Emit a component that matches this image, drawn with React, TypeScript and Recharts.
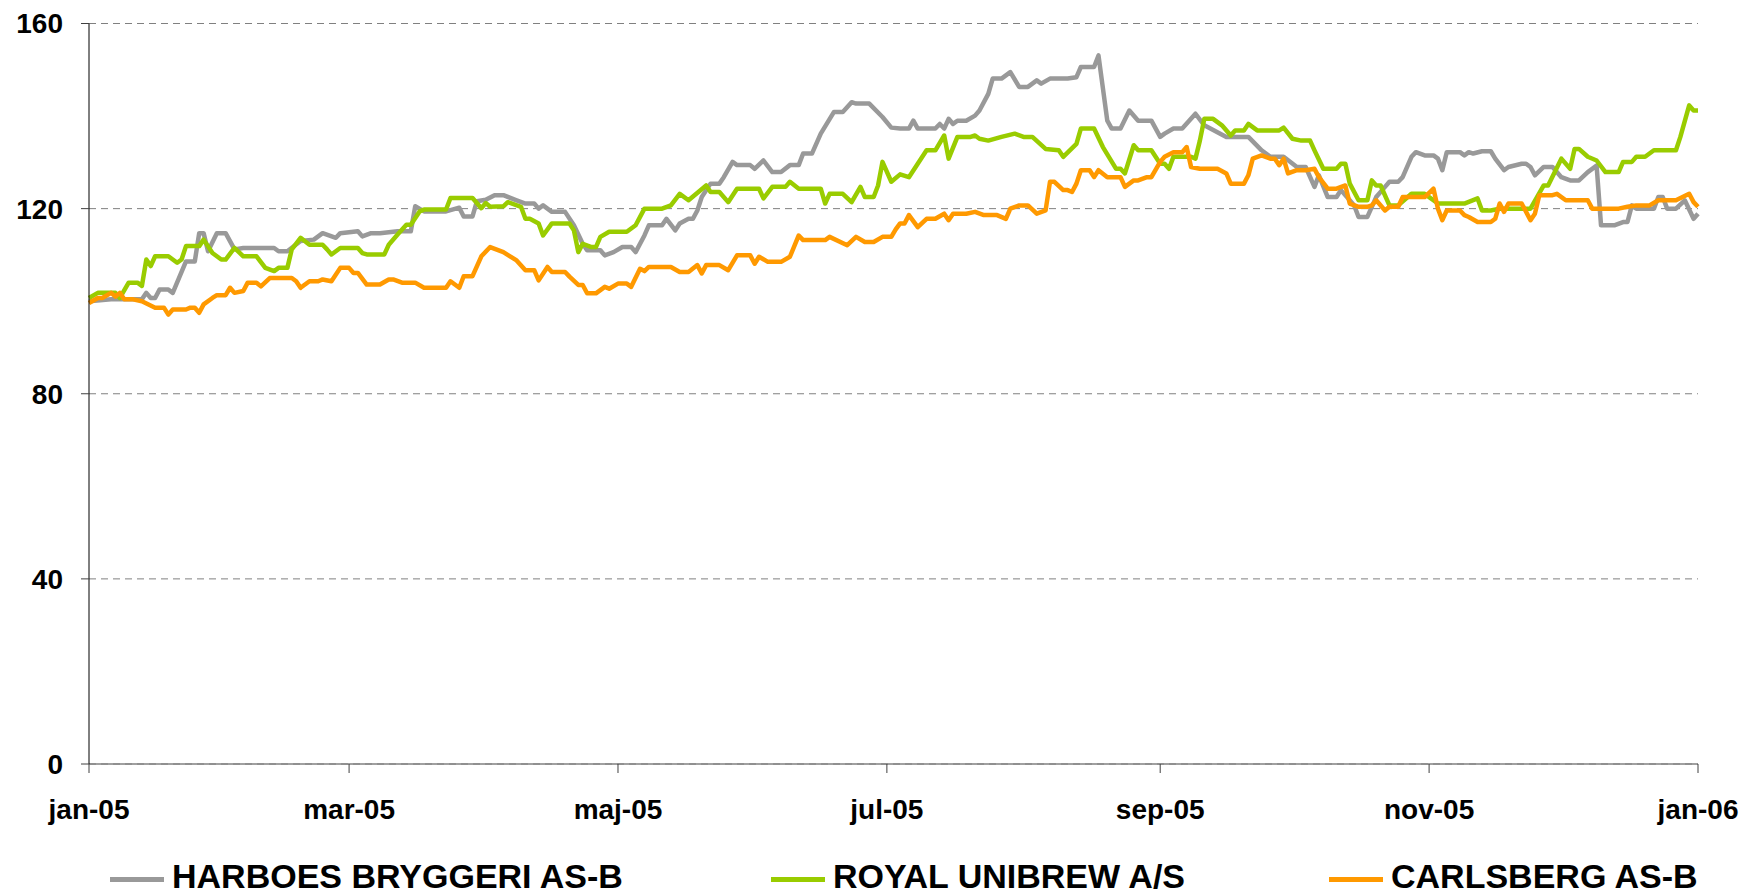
import React from 'react';
import { LineChart, Line, XAxis, YAxis, CartesianGrid } from 'recharts';

// Day offsets from 1 Jan 2005, index values
const harboesSeries: [number, number][] = [
  [0,100],[5,100.4],[12,100.4],[13,101.8],[14,100.7],[15,100.7],[16,102.5],[18,102.5],[19,101.8],[22,108.6],[24,108.6],
  [25,114.7],[26,114.7],[27,110.8],[29,114.7],[31,114.7],[33,111.2],[35,111.5],[42,111.5],[43,110.8],[45,110.8],[48,113],
  [51,113.3],[53,114.7],[56,113.7],[57,114.7],[61,115.1],[62,114],[64,114.7],[66,114.7],[70,115.1],[73,115.1],[74,120.5],
  [76,119.4],[81,119.4],[84,120.2],[85,118.3],[87,118.3],[88,121.6],[90,121.9],[92,122.9],[94,122.9],[97,121.8],[99,121.1],
  [101,121.1],[102,120],[103,120.7],[105,119.3],[108,119.3],[110,116.4],[112,112.4],[113,111],[116,111],[117,109.9],[119,110.6],
  [121,111.7],[123,111.7],[124,110.6],[126,114.2],[127,116.4],[130,116.4],[131,117.8],[133,115.3],[134,116.8],[136,117.8],
  [137,117.8],[138,119.6],[139,122.5],[141,125.4],[143,125.4],[144,126.8],[146,130.1],[147,129.4],[150,129.4],[151,128.6],
  [153,130.4],[155,127.9],[157,127.9],[159,129.4],[161,129.4],[162,131.9],[164,131.9],[166,136.2],[169,140.9],[171,140.9],
  [173,143],[174,142.7],[177,142.7],[180,139.8],[182,137.5],[184,137.3],[186,137.3],[187,139],[188,137.3],[192,137.3],
  [193,138.3],[194,137.3],[195,139.4],[196,138.3],[197,139],[199,139],[201,140.1],[202,141.2],[204,144.8],[205,148.1],
  [207,148.1],[209,149.5],[211,146.3],[213,146.3],[215,147.7],[216,147],[218,148.1],[222,148.1],[224,148.4],[225,150.6],
  [228,150.6],[229,153.1],[231,139],[232,137.3],[234,137.3],[236,141.2],[238,139],[241,139],[243,135.5],[244,136.2],
  [246,137.3],[248,137.3],[251,140.5],[253,138],[258,135.5],[263,135.5],[266,132.6],[268,131.2],[271,131.2],[274,129],
  [276,129],[278,124.7],[279,127.2],[281,122.5],[283,122.5],[284,124],[286,121.8],[287,120.7],[288,118.2],[290,118.2],
  [292,122.5],[294,124.7],[295,125.8],[297,125.8],[298,126.8],[300,131.2],[301,132.2],[303,131.5],[305,131.5],[306,130.8],
  [307,128.3],[308,132.2],[311,132.2],[312,131.5],[313,132.2],[314,131.9],[316,132.4],[318,132.4],[319,130.8],[321,128.3],
  [322,129],[325,129.7],[326,129.7],[327,129],[328,127.2],[330,129],[332,129],[334,126.8],[336,126.1],[338,126.1],
  [340,127.9],[342,129.3],[343,116.4],[346,116.4],[348,117.1],[349,117.1],[350,120.7],[351,120],[355,120],[356,122.5],
  [357,122.5],[358,120],[360,120],[362,121.8],[364,117.8],[365,118.9],
];

const royalSeries: [number, number][] = [
  [0,100.7],[2,101.8],[6,101.8],[7,100.7],[9,104],[11,104],[12,103.3],[13,109],[14,107.6],[15,109.7],[18,109.7],[20,108.3],
  [21,109],[22,111.9],[25,111.9],[26,113.3],[28,110.4],[30,109],[31,109],[33,111.5],[35,109.7],[38,109.7],[40,107.2],
  [42,106.5],[43,107.2],[45,107.2],[46,111.2],[48,113.7],[50,112.2],[53,112.2],[54,111.2],[55,110.1],[57,111.5],[61,111.5],
  [62,110.4],[63,110.1],[67,110.1],[68,112.2],[70,114.4],[72,116.5],[73,116.5],[75,119.4],[76,119.8],[81,119.8],[82,122.3],
  [87,122.3],[89,120.1],[90,121.2],[91,120.4],[94,120.5],[95,121.4],[98,120.4],[99,117.8],[100,117.8],[102,116.8],
  [103,114.2],[105,116.8],[109,116.8],[110,115.3],[111,110.6],[112,112.4],[114,111.7],[115,111.7],[116,113.9],[118,115],
  [122,115],[124,116.4],[126,120],[130,120],[132,120.7],[134,123.2],[136,121.8],[140,125],[141,123.6],[143,123.6],
  [145,121.4],[147,124.3],[152,124.3],[153,122.2],[155,124.7],[158,124.7],[159,125.8],[161,124.3],[166,124.3],[167,121.1],
  [168,123.2],[171,123.2],[173,121.4],[175,124.7],[176,122.5],[178,122.5],[179,125],[180,130.1],[182,125.8],[184,127.4],
  [186,126.8],[188,129.7],[190,132.6],[192,132.6],[194,135.8],[195,130.8],[197,135.5],[200,135.5],[201,135.8],[202,135.1],
  [204,134.7],[207,135.5],[210,136.2],[212,135.5],[214,135.5],[217,132.9],[220,132.6],[221,131.2],[224,134],[225,137.3],
  [228,137.3],[230,133.3],[233,128.6],[234,128.6],[235,127.6],[237,133.7],[238,132.6],[241,132.6],[243,129.7],[244,129.7],
  [245,128.6],[246,131.2],[250,131.2],[251,130.8],[252,134.7],[253,139.4],[255,139.4],[257,138],[259,135.8],[260,136.9],
  [262,136.9],[263,138.3],[265,136.9],[270,136.9],[271,137.5],[273,135.1],[275,134.7],[277,134.7],[278,132.6],[280,128.6],
  [283,128.6],[284,129.7],[285,129.7],[286,125.4],[288,121.8],[290,121.8],[291,126.1],[292,125],[293,125],[295,120.7],
  [297,120.7],[300,123.2],[303,123.2],[306,121.1],[312,121.1],[315,122.2],[316,119.6],[318,119.6],[320,120],[327,120],
  [330,125],[331,125],[334,130.8],[336,128.6],[337,132.9],[338,132.9],[340,131.2],[342,130.4],[344,127.9],[347,127.9],
  [348,130.1],[350,130.1],[351,131.2],[353,131.2],[355,132.6],[360,132.6],[361,135.5],[363,142.3],[364,141.2],[365,141.2],
];

const carlsbergSeries: [number, number][] = [
  [0,99.6],[2,100.7],[3,100.7],[5,101.8],[6,101],[7,101.8],[8,100.4],[10,100.4],[12,100],[15,98.6],[17,98.6],[18,97.1],
  [19,98.2],[22,98.2],[23,98.6],[24,98.6],[25,97.5],[26,99.3],[28,100.7],[29,101.3],[31,101.3],[32,102.9],[33,101.8],
  [35,102.2],[36,104],[38,104],[39,103.2],[41,105],[46,105],[47,104.3],[48,102.9],[50,104.3],[52,104.3],[53,104.7],
  [55,104.3],[57,107.2],[59,107.2],[60,106.1],[61,106.1],[63,103.6],[66,103.6],[68,104.7],[69,104.7],[71,104],[74,104],
  [76,102.9],[81,102.9],[82,104.3],[84,102.9],[85,105.4],[87,105.4],[89,109.7],[91,111.7],[94,110.6],[97,108.8],[99,106.7],
  [101,106.7],[102,104.5],[104,107.4],[105,106.3],[108,106.3],[109,105.3],[111,103.5],[112,103.5],[113,101.7],[115,101.7],
  [117,103.1],[118,102.7],[120,103.8],[122,103.8],[123,103.1],[125,107],[126,106.5],[127,107.4],[132,107.4],[134,106.3],
  [136,106.3],[138,107.8],[139,106],[140,107.8],[143,107.8],[145,106.7],[147,109.9],[150,109.9],[151,108.1],[152,109.6],
  [154,108.5],[157,108.5],[159,109.6],[161,114.2],[162,113.2],[167,113.2],[168,113.9],[172,112.1],[174,113.9],[176,112.8],
  [178,112.8],[180,113.9],[182,113.9],[183,115.5],[184,116.8],[185,116.8],[186,118.6],[188,116],[190,117.8],[192,117.8],
  [194,118.9],[195,117.5],[196,118.9],[199,118.9],[201,119.3],[203,118.6],[206,118.6],[208,117.8],[209,120],[211,120.7],
  [213,120.7],[215,118.9],[217,119.6],[218,125.8],[219,125.8],[221,124],[222,124],[223,123.6],[224,125.4],[225,128.3],
  [227,128.3],[228,126.8],[229,128.3],[231,126.8],[234,126.8],[235,124.7],[237,126.1],[238,126.1],[240,126.8],[241,126.8],
  [243,130.1],[244,131.2],[246,132.2],[248,132.2],[249,133.3],[250,129],[252,128.6],[256,128.6],[258,127.6],[259,125.4],
  [262,125.4],[263,127.2],[264,130.8],[266,131.5],[268,130.8],[269,130.8],[270,129.4],[271,130.8],[272,127.6],[274,128.3],
  [276,128.3],[278,128.6],[279,126.8],[281,124.3],[283,124.3],[285,125],[286,121.1],[288,120.4],[290,120.4],[291,120.7],
  [292,121.8],[294,119.6],[295,120.4],[297,120.4],[298,122.5],[303,122.5],[305,124.3],[306,120],[307,117.5],[308,119.6],
  [311,119.6],[312,118.6],[313,118.2],[315,117.1],[318,117.1],[319,117.8],[320,121.1],[321,119.3],[322,121.1],[325,121.1],
  [327,117.5],[328,118.9],[329,122.9],[332,122.9],[333,123.2],[335,121.8],[340,121.8],[341,120],[347,120],[349,120.4],
  [351,120.7],[354,120.7],[356,121.8],[360,121.8],[363,123.2],[364,121.4],[365,120.4],
];

const xTickDays = [0, 59, 120, 181, 243, 304, 365];
const xTickLabels = ['jan-05', 'mar-05', 'maj-05', 'jul-05', 'sep-05', 'nov-05', 'jan-06'];
const yTicks = [0, 40, 80, 120, 160];

const seriesNames = ['HARBOES BRYGGERI AS-B', 'ROYAL UNIBREW A/S', 'CARLSBERG AS-B'];
const seriesColors = ['#999999', '#99CC00', '#FF9900'];

const toRows = (s: [number, number][]) => s.map(([day, v]) => ({ day, v }));
const allSeries = [harboesSeries, royalSeries, carlsbergSeries].map(toRows);

const FONT = '"Liberation Sans", Arial, Helvetica, sans-serif';

const legendLeft = [110, 771, 1329];

export default function App() {
  return (
    <div style={{ position: 'absolute', left: 0, top: 0, width: 1747, height: 896, background: '#fff', fontFamily: FONT }}>
      <LineChart width={1747} height={896} margin={{ top: 23.5, right: 49, left: 0, bottom: 72 }}>
        <CartesianGrid vertical={false} stroke="#808080" strokeDasharray="7 5" />
        <XAxis
          type="number"
          dataKey="day"
          domain={[0, 365]}
          ticks={xTickDays}
          tickFormatter={(d: number) => xTickLabels[xTickDays.indexOf(d)] ?? ''}
          height={60}
          stroke="#808080"
          strokeWidth={1.5}
          tickSize={9}
          tickMargin={26}
          tickLine={{ stroke: '#404040', strokeWidth: 1 }}
          tick={{ fontSize: 28, fontWeight: 'bold', fill: '#000', fontFamily: FONT }}
        />
        <YAxis
          type="number"
          domain={[0, 160]}
          ticks={yTicks}
          width={89}
          stroke="#000"
          tickSize={8}
          tickMargin={18}
          tickLine={{ stroke: '#404040', strokeWidth: 1 }}
          tick={{ fontSize: 28, fontWeight: 'bold', fill: '#000', fontFamily: FONT }}
        />
        {allSeries.map((rows, i) => (
          <Line
            key={seriesNames[i]}
            data={rows}
            dataKey="v"
            name={seriesNames[i]}
            type="linear"
            stroke={seriesColors[i]}
            strokeWidth={4.5}
            strokeLinejoin="round"
            dot={false}
            activeDot={false}
            isAnimationActive={false}
          />
        ))}
      </LineChart>
      {seriesNames.map((n, i) => (
        <div
          key={n}
          style={{ position: 'absolute', left: legendLeft[i], top: 857, height: 38, display: 'flex', alignItems: 'center' }}
        >
          <span style={{ display: 'inline-block', width: 54, height: 5, background: seriesColors[i], marginRight: 8, marginTop: 6 }} />
          <span style={{ fontSize: 34, fontWeight: 'bold', color: '#000', fontFamily: FONT, whiteSpace: 'nowrap', lineHeight: '38px' }}>
            {n}
          </span>
        </div>
      ))}
    </div>
  );
}
